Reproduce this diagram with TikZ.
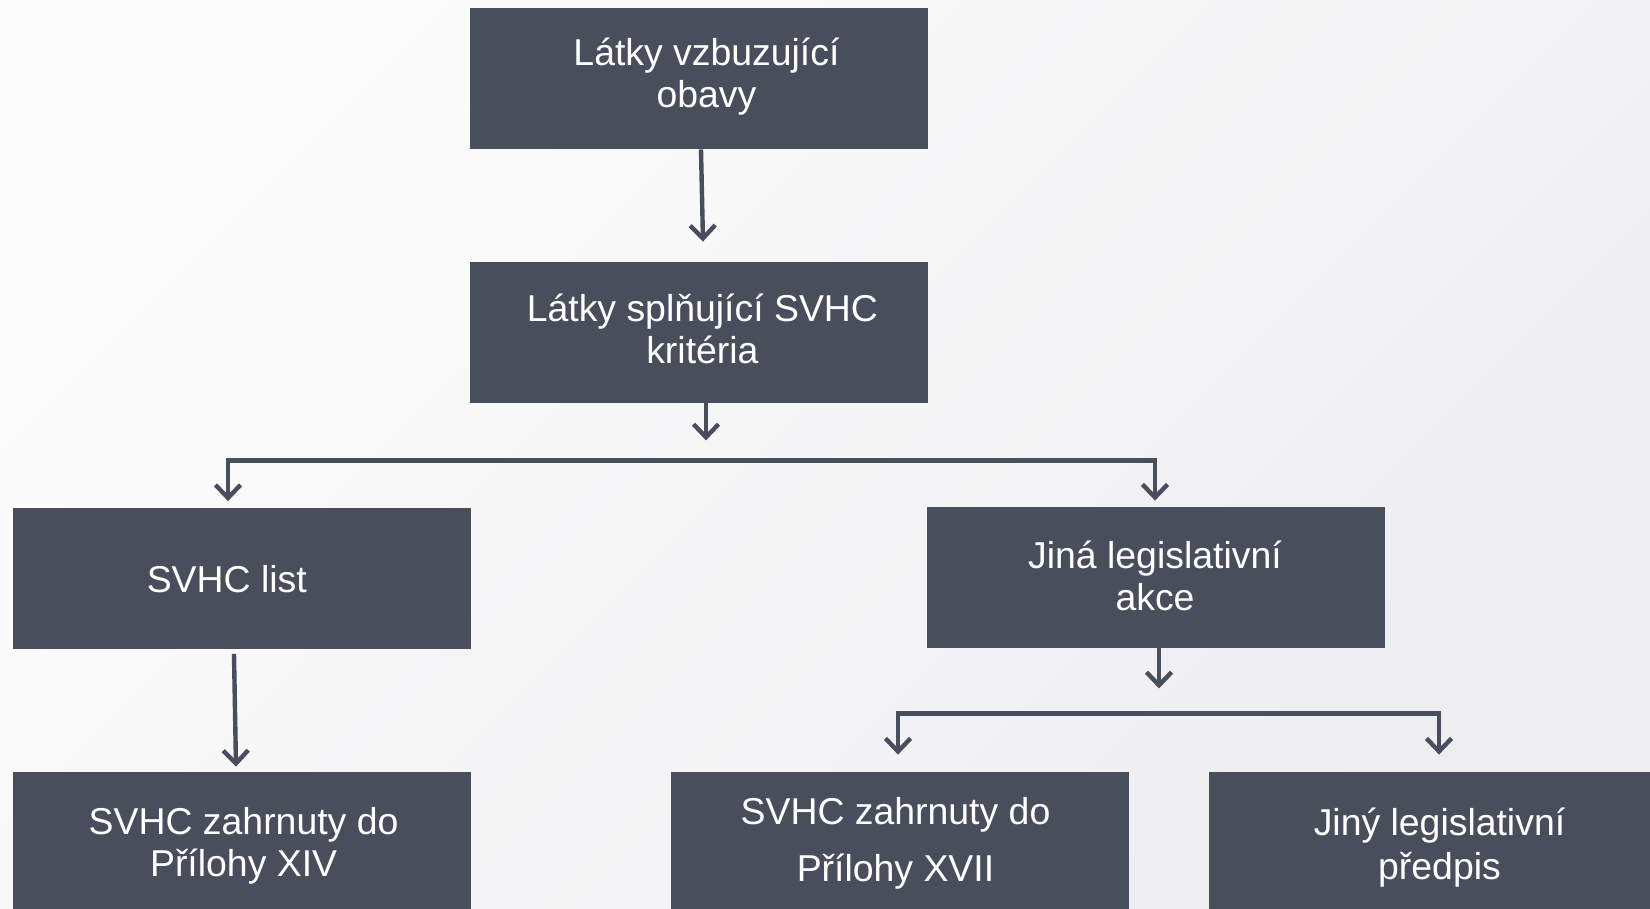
\documentclass[tikz,border=0pt]{standalone}
\usepackage{fontspec}
\setmainfont{Liberation Sans}
\usetikzlibrary{arrows.meta,calc}
\definecolor{boxc}{RGB}{73,78,92}
\definecolor{bgA}{RGB}{252,252,252}
\definecolor{bgB}{RGB}{238,238,241}
\begin{document}
\begin{tikzpicture}[x=0.5pt,y=-0.5pt,
  box/.style={fill=boxc, minimum width=229pt, minimum height=70.5pt, inner sep=0pt},
  txt/.style={text=white, inner sep=0pt, align=center, font=\fontsize{18.7}{21}\selectfont},
  conn/.style={draw=boxc, line width=2.2pt, -{Straight Barb[length=6.5pt,width=12.5pt]}}]
\useasboundingbox (0,0) rectangle (1650,909);
\shade[top color=bgA, bottom color=bgB, shading angle=45] (0,0) rectangle (1650,909);
\clip (0,0) rectangle (1650,909);

\node[box] (top) at (699,78.5) {};
\node[box] (crit) at (699,332.5) {};
\node[box] (svhc) at (242,578) {};
\node[box] (jina) at (1156,577.5) {};
\node[box] (a14) at (242,842.5) {};
\node[box] (a17) at (899.5,842.5) {};
\node[box] (other) at (1438,842.5) {};

\node[txt] (topt) at (706.5,76.4) {Látky vzbuzující\\obavy};
\node[txt] (critt) at (702.4,329.4) {Látky splňující SVHC\\kritéria};
\node[txt] (svhct) at (226.8,578.8) {SVHC list};
\node[txt] (jinat) at (1155,575.6) {Jiná legislativní\\akce};
\node[txt] (a14t) at (243.6,845.7) {SVHC zahrnuty do\\Přílohy XIV};
\node[txt, font=\fontsize{18.7}{28.5}\selectfont] (a17t) at (895.5,843.5) {SVHC zahrnuty do\\Přílohy XVII};
\node[txt, font=\fontsize{18.7}{22}\selectfont] (othert) at (1439.5,847.8) {Jiný legislativní\\předpis};

\draw[conn] ($(top.south)+(2,0)$) -- ($(crit.north)+(4,-20)$);
\draw[conn] ($(crit.south)+(7,0)$) -- ($(crit.south)+(7,37)$);
\coordinate (br1) at ($(crit.south)+(7,57)$);
\draw[conn] (br1) -| ($(svhc.north)+(-14,-6)$);
\draw[conn] (br1) -| ($(jina.north)+(-1,-6)$);
\draw[conn] ($(svhc.south)+(-8,5)$) -- ($(a14.north)+(-6,-5)$);
\draw[conn] ($(jina.south)+(3,0)$) -- ($(jina.south)+(3,40)$);
\coordinate (br2) at ($(jina.south)+(3,65)$);
\draw[conn] (br2) -| ($(a17.north)+(-1.5,-17)$);
\draw[conn] (br2) -| ($(other.north)+(1,-17)$);
\end{tikzpicture}
\end{document}
